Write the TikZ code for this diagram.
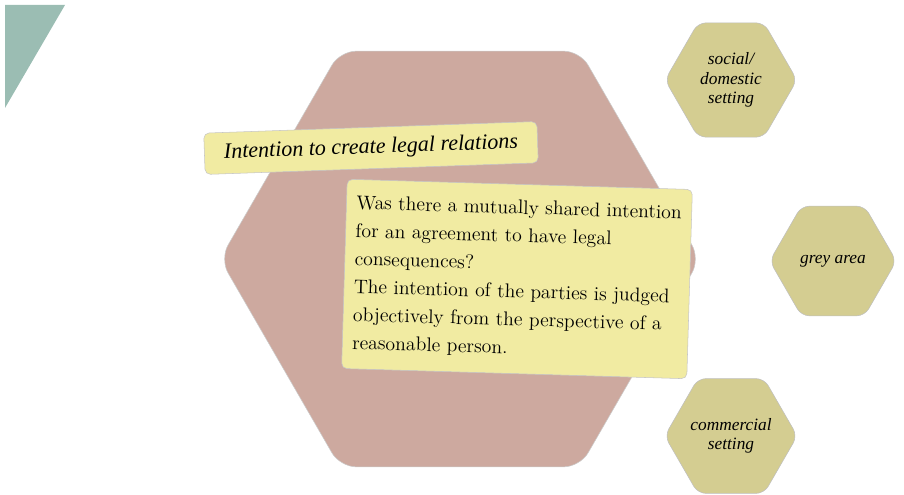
\documentclass[tikz,border=0pt]{standalone}
\usepackage{fontspec}
\usepackage{tikz}
\usetikzlibrary{shapes.geometric}
\newfontfamily\labelfont{Liberation Serif}
\definecolor{hexrose}{RGB}{205,169,159}
\definecolor{hexkhaki}{RGB}{212,205,145}
\definecolor{noteyellow}{RGB}{241,235,162}
\definecolor{cornerteal}{RGB}{155,189,179}
\tikzset{
  bighex/.style={regular polygon,regular polygon sides=6,fill=hexrose,draw=gray!40,rounded corners=12pt,inner sep=0pt},
  smallhex/.style={regular polygon,regular polygon sides=6,fill=hexkhaki,draw=gray!50,rounded corners=6pt,inner sep=0pt,align=center,font=\labelfont\itshape\fontsize{13}{14.5}\selectfont},
  note/.style={fill=noteyellow,draw=gray!45,rounded corners=4pt}
}

\begin{document}
\begin{tikzpicture}[x=0.75pt,y=-0.75pt]
\useasboundingbox (0,0) rectangle (904,495);
% corner
\fill[cornerteal] (5,5) -- (65,5) -- (5,108) -- cycle;
% big hexagon
\node[bighex,minimum size=360pt] (main) at (460,259) {};
% right hexagons
\node[smallhex,minimum size=99pt] (social) at (731,80) {social/\\domestic\\setting};
\node[smallhex,minimum size=95pt] (grey) at (833,261) {grey area};
\node[smallhex,minimum size=99pt] (commercial) at (731,436) {commercial\\setting};
% notes
\node[note,rotate=2,minimum width=250pt,minimum height=31pt,font=\labelfont\itshape\fontsize{16.5}{19}\selectfont] (title) at (371,148) {Intention to create legal relations};
\node[note,rotate=-1.7,minimum width=259pt,minimum height=142pt,align=left,inner xsep=5pt,font=\fontsize{14.8}{21}\selectfont] (question) at (517,279)
  {Was there a mutually shared intention\\for an agreement to have legal\\consequences?\\The intention of the parties is judged\\objectively from the perspective of a\\reasonable person.};
\end{tikzpicture}
\end{document}
